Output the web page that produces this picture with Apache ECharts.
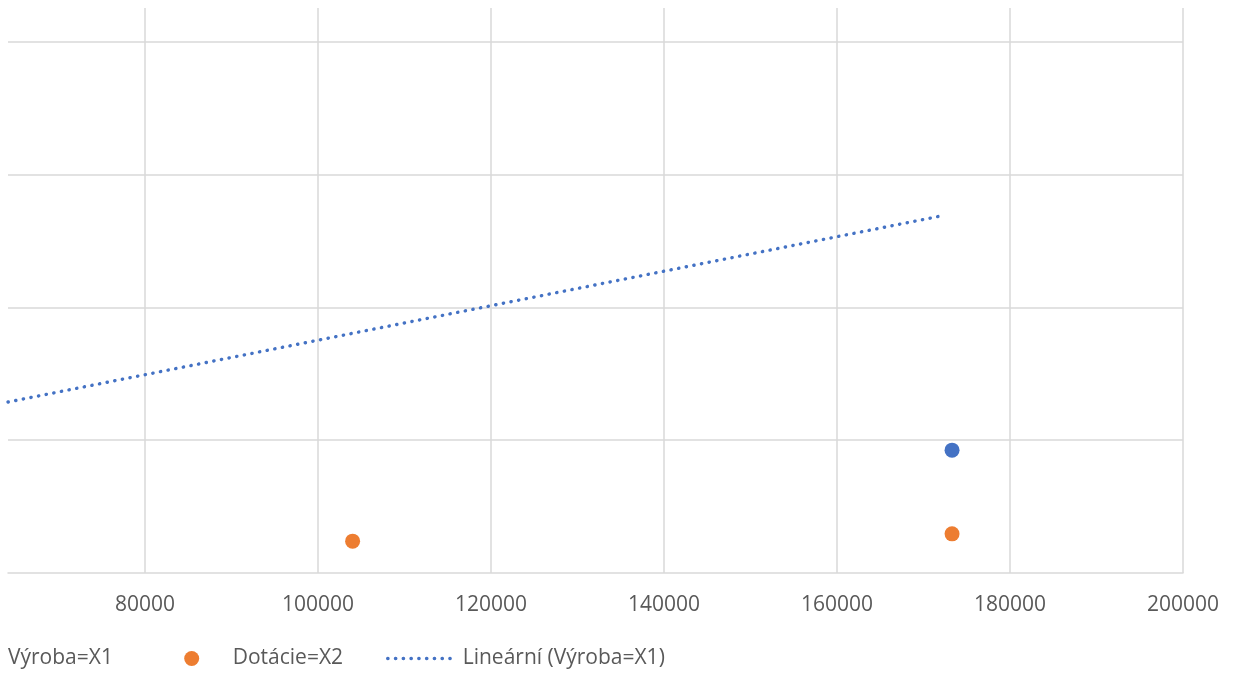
<!DOCTYPE html>
<html>
<head>
<meta charset="utf-8">
<script src="https://cdn.jsdelivr.net/npm/echarts@6/dist/echarts.min.js"></script>
<style>
html,body{margin:0;padding:0;background:#ffffff;}
#chart{width:1247px;height:695px;}
</style>
</head>
<body>
<div id="chart"></div>
<script>
// ---- data ----
const seriesNames = ['Výroba=X1', 'Dotácie=X2', 'Lineární (Výroba=X1)'];
const vyrobaX = [173300];
const vyrobaY = [18500];
const dotacieX = [104000, 173300];
const dotacieY = [4800, 5900];
const trendX = [64160, 172500];
const trendY = [25750, 53900];
const xTickValues = [80000, 100000, 120000, 140000, 160000, 180000, 200000];
const xRange = [64160, 200000];
const yRange = [0, 85100];
const yStep = 20000;

const pairs = (xs, ys) => xs.map((x, i) => [x, ys[i]]);

const FONT = 'Open Sans';
const TXT = '#595959';
const GRID = '#d9d9d9';
const BLUE = '#4472C4';
const ORANGE = '#ED7D31';
const DOTS = [0.3, 7.47];

const chart = echarts.init(document.getElementById('chart'), null, {renderer: 'canvas'});
chart.setOption({
  animation: false,
  backgroundColor: '#ffffff',
  grid: {left: 8, right: 64, top: 8, bottom: 122, containLabel: false},
  xAxis: {
    type: 'value',
    min: xRange[0],
    max: xRange[1],
    splitNumber: 7,
    minInterval: xTickValues[1] - xTickValues[0],
    maxInterval: xTickValues[1] - xTickValues[0],
    axisLine: {show: true, lineStyle: {color: GRID, width: 1.5}},
    axisTick: {show: false},
    axisLabel: {
      color: TXT, fontFamily: FONT, fontSize: 21, margin: 22,
      showMinLabel: false,
      formatter: v => (xTickValues.indexOf(v) >= 0 ? String(v) : '')
    },
    splitLine: {show: true, showMinLine: false, lineStyle: {color: GRID, width: 1.5}}
  },
  yAxis: {
    type: 'value',
    min: yRange[0],
    max: yRange[1],
    interval: yStep,
    axisLine: {show: false},
    axisTick: {show: false},
    axisLabel: {show: false},
    splitLine: {show: true, showMinLine: false, showMaxLine: false, lineStyle: {color: GRID, width: 1.5}}
  },
  legend: [
    {
      data: [seriesNames[0]],
      left: -40.5, top: 648, padding: 0,
      itemWidth: 72, itemHeight: 15,
      itemStyle: {opacity: 1},
      textStyle: {color: TXT, fontFamily: FONT, fontSize: 21}
    },
    {
      data: [seriesNames[1]],
      left: 184.2, top: 648, padding: 0,
      itemWidth: 72, itemHeight: 15,
      itemStyle: {opacity: 1},
      textStyle: {color: TXT, fontFamily: FONT, fontSize: 21}
    },
    {
      data: [seriesNames[2]],
      left: 386, top: 648, padding: 0,
      itemWidth: 66, itemHeight: 15,
      itemStyle: {color: 'rgba(0,0,0,0)', opacity: 0, borderWidth: 0},
      lineStyle: {color: BLUE, width: 3.4, type: DOTS, cap: 'round'},
      textStyle: {color: TXT, fontFamily: FONT, fontSize: 21, padding: [0, 0, 0, 4]}
    }
  ],
  series: [
    {
      name: seriesNames[0],
      type: 'scatter',
      symbol: 'circle',
      symbolSize: 15,
      itemStyle: {color: BLUE, opacity: 1},
      data: pairs(vyrobaX, vyrobaY),
      z: 3
    },
    {
      name: seriesNames[1],
      type: 'scatter',
      symbol: 'circle',
      symbolSize: 15,
      itemStyle: {color: ORANGE, opacity: 1},
      data: pairs(dotacieX, dotacieY),
      z: 3
    },
    {
      name: seriesNames[2],
      type: 'line',
      symbol: 'none',
      showSymbol: false,
      clip: true,
      lineStyle: {color: BLUE, width: 3.4, type: DOTS, cap: 'round'},
      itemStyle: {color: BLUE},
      data: pairs(trendX, trendY),
      z: 2
    }
  ]
});
</script>
</body>
</html>
